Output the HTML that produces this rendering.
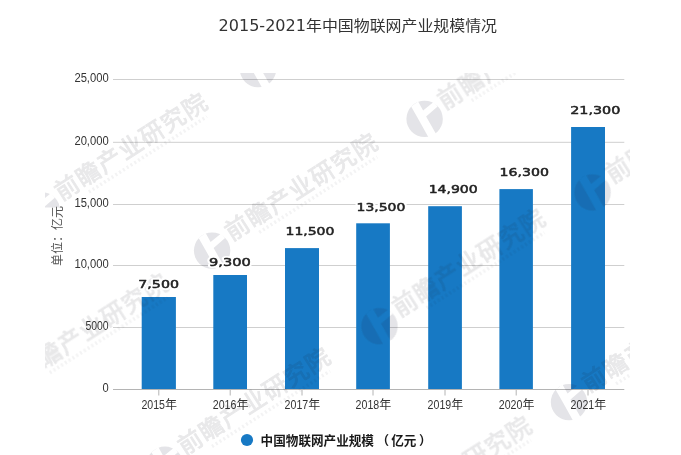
<!DOCTYPE html>
<html lang="zh-CN">
<head>
<meta charset="utf-8">
<title>2015-2021年中国物联网产业规模情况</title>
<style>
html,body{margin:0;padding:0;background:#fff;}
body{width:681px;height:455px;overflow:hidden;}
svg{display:block;}
.num{font-family:"Liberation Sans","Noto Sans CJK SC",sans-serif;font-size:12px;fill:#333;}
.dlh{font-family:"DejaVu Sans","Liberation Sans",sans-serif;font-size:11.1px;fill:#fff;stroke:#fff;stroke-width:4px;stroke-linejoin:round;}
.dl{font-family:"DejaVu Sans","Liberation Sans",sans-serif;font-size:11.1px;fill:#222;stroke:#222;stroke-width:0.5px;stroke-linejoin:round;}
.wm{font-family:"Noto Sans CJK SC","WenQuanYi Zen Hei",sans-serif;font-weight:400;font-size:24px;letter-spacing:1.2px;fill:#20202c;stroke:#20202c;stroke-width:0.9px;}
</style>
</head>
<body>
<svg width="681" height="455" viewBox="0 0 681 455">
<defs>
<clipPath id="wmclip"><rect x="45.5" y="73.8" width="584" height="400"/></clipPath>
<mask id="lm" maskUnits="userSpaceOnUse" x="-20" y="-20" width="40" height="40">
<rect x="-20" y="-20" width="40" height="40" fill="#fff"/>
<path d="M-13.5,-12.5 L-6.5,-17.5 L-1.5,-8.5 L9,-17 L13,-12.5 L1.5,-2.5 L12,16 L4.5,19.5 L-5.5,1.5 Z" fill="#000"/>
</mask>
<g id="logo"><g transform="rotate(32.6)">
<circle cx="0" cy="0" r="18.2" fill="#20203a" mask="url(#lm)"/>
</g></g>
</defs>
<rect width="681" height="455" fill="#fff"/>

<line x1="113" y1="79.5" x2="624.3" y2="79.5" stroke="#cfcfcf" stroke-width="1"/>
<line x1="113" y1="142.3" x2="624.3" y2="142.3" stroke="#cfcfcf" stroke-width="1"/>
<line x1="113" y1="204.5" x2="624.3" y2="204.5" stroke="#cfcfcf" stroke-width="1"/>
<line x1="113" y1="265.5" x2="624.3" y2="265.5" stroke="#cfcfcf" stroke-width="1"/>
<line x1="113" y1="327.5" x2="624.3" y2="327.5" stroke="#cfcfcf" stroke-width="1"/>
<rect x="141.7" y="297.0" width="34.2" height="92.5" fill="#1779c4"/>
<rect x="213.3" y="275.0" width="33.7" height="114.5" fill="#1779c4"/>
<rect x="285.0" y="248.1" width="34.0" height="141.4" fill="#1779c4"/>
<rect x="356.2" y="223.3" width="33.7" height="166.2" fill="#1779c4"/>
<rect x="428.2" y="206.2" width="33.7" height="183.3" fill="#1779c4"/>
<rect x="499.4" y="189.1" width="33.5" height="200.4" fill="#1779c4"/>
<rect x="571.1" y="127.0" width="33.9" height="262.5" fill="#1779c4"/>
<line x1="113" y1="389.5" x2="624.3" y2="389.5" stroke="#b4b4b4" stroke-width="1"/>
<line x1="158.8" y1="389.5" x2="158.8" y2="395.5" stroke="#b4b4b4" stroke-width="1"/>
<line x1="230.2" y1="389.5" x2="230.2" y2="395.5" stroke="#b4b4b4" stroke-width="1"/>
<line x1="302.0" y1="389.5" x2="302.0" y2="395.5" stroke="#b4b4b4" stroke-width="1"/>
<line x1="373.0" y1="389.5" x2="373.0" y2="395.5" stroke="#b4b4b4" stroke-width="1"/>
<line x1="445.0" y1="389.5" x2="445.0" y2="395.5" stroke="#b4b4b4" stroke-width="1"/>
<line x1="516.2" y1="389.5" x2="516.2" y2="395.5" stroke="#b4b4b4" stroke-width="1"/>
<line x1="588.0" y1="389.5" x2="588.0" y2="395.5" stroke="#b4b4b4" stroke-width="1"/>
<g clip-path="url(#wmclip)" opacity="0.12">
<g transform="translate(66.8,187.2) rotate(-32.6)"><use href="#logo" x="-33.5" y="6"/><text class="wm" x="-12" y="9" opacity="0.85">前瞻产业研究院</text><line x1="16" y1="16" x2="156" y2="16" stroke="#20202c" stroke-width="3.5" stroke-dasharray="2 2.5" opacity="0.45"/></g>
<g transform="translate(283,46) rotate(-32.6)"><use href="#logo" x="-33.5" y="6"/><text class="wm" x="-12" y="9" opacity="0.85">前瞻产业研究院</text><line x1="16" y1="16" x2="156" y2="16" stroke="#20202c" stroke-width="3.5" stroke-dasharray="2 2.5" opacity="0.45"/></g>
<g transform="translate(237.1,227.5) rotate(-32.6)"><use href="#logo" x="-33.5" y="6"/><text class="wm" x="-12" y="9" opacity="0.85">前瞻产业研究院</text><line x1="16" y1="16" x2="156" y2="16" stroke="#20202c" stroke-width="3.5" stroke-dasharray="2 2.5" opacity="0.45"/></g>
<g transform="translate(449.6,95.8) rotate(-32.6)"><use href="#logo" x="-33.5" y="6"/><text class="wm" x="-12" y="9" opacity="0.85">前瞻产业研究院</text><line x1="16" y1="16" x2="156" y2="16" stroke="#20202c" stroke-width="3.5" stroke-dasharray="2 2.5" opacity="0.45"/></g>
<g transform="translate(404.5,303.1) rotate(-32.6)"><use href="#logo" x="-33.5" y="6"/><text class="wm" x="-12" y="9" opacity="0.85">前瞻产业研究院</text><line x1="16" y1="16" x2="156" y2="16" stroke="#20202c" stroke-width="3.5" stroke-dasharray="2 2.5" opacity="0.45"/></g>
<g transform="translate(617.6,169.4) rotate(-32.6)"><use href="#logo" x="-33.5" y="6"/><text class="wm" x="-12" y="9" opacity="0.85">前瞻产业研究院</text><line x1="16" y1="16" x2="156" y2="16" stroke="#20202c" stroke-width="3.5" stroke-dasharray="2 2.5" opacity="0.45"/></g>
<g transform="translate(189.9,441.6) rotate(-32.6)"><use href="#logo" x="-33.5" y="6"/><text class="wm" x="-12" y="9" opacity="0.85">前瞻产业研究院</text><line x1="16" y1="16" x2="156" y2="16" stroke="#20202c" stroke-width="3.5" stroke-dasharray="2 2.5" opacity="0.45"/></g>
<g transform="translate(27.7,367.9) rotate(-32.6)"><use href="#logo" x="-33.5" y="6"/><text class="wm" x="-12" y="9" opacity="0.85">前瞻产业研究院</text><line x1="16" y1="16" x2="156" y2="16" stroke="#20202c" stroke-width="3.5" stroke-dasharray="2 2.5" opacity="0.45"/></g>
<g transform="translate(594,379) rotate(-32.6)"><use href="#logo" x="-33.5" y="6"/><text class="wm" x="-12" y="9" opacity="0.85">前瞻产业研究院</text><line x1="16" y1="16" x2="156" y2="16" stroke="#20202c" stroke-width="3.5" stroke-dasharray="2 2.5" opacity="0.45"/></g>
<g transform="translate(391,510.5) rotate(-32.6)"><use href="#logo" x="-33.5" y="6"/><text class="wm" x="-12" y="9" opacity="0.85">前瞻产业研究院</text><line x1="16" y1="16" x2="156" y2="16" stroke="#20202c" stroke-width="3.5" stroke-dasharray="2 2.5" opacity="0.45"/></g>
</g>
<text x="218.5" y="30.5" style="font-family:'DejaVu Sans','Liberation Sans','Noto Sans CJK SC',sans-serif;font-size:15px;fill:#333;"><tspan textLength="87.5" lengthAdjust="spacingAndGlyphs">2015-2021</tspan><tspan style="font-family:'Liberation Sans','Noto Sans CJK SC',sans-serif;font-size:14.7px" textLength="191" lengthAdjust="spacingAndGlyphs">年中国物联网产业规模情况</tspan></text>
<text class="num" x="108.7" y="81.7" text-anchor="end" textLength="34.3" lengthAdjust="spacingAndGlyphs">25,000</text>
<text class="num" x="108.7" y="144.5" text-anchor="end" textLength="34.3" lengthAdjust="spacingAndGlyphs">20,000</text>
<text class="num" x="108.7" y="206.7" text-anchor="end" textLength="34.3" lengthAdjust="spacingAndGlyphs">15,000</text>
<text class="num" x="108.7" y="267.7" text-anchor="end" textLength="34.3" lengthAdjust="spacingAndGlyphs">10,000</text>
<text class="num" x="108.7" y="329.7" text-anchor="end" textLength="23.3" lengthAdjust="spacingAndGlyphs">5000</text>
<text class="num" x="108.7" y="391.7" text-anchor="end" textLength="6.2" lengthAdjust="spacingAndGlyphs">0</text>
<rect x="44" y="207.5" width="21" height="59" fill="#fff"/>
<text transform="translate(61.5,236) rotate(-90)" text-anchor="middle" style="font-family:'Liberation Sans','Noto Sans CJK SC',sans-serif;font-size:12px;fill:#555;">单位：亿元</text>
<text class="num" x="141.4" y="409"><tspan textLength="23.6" lengthAdjust="spacingAndGlyphs">2015</tspan><tspan>年</tspan></text>
<text class="num" x="212.8" y="409"><tspan textLength="23.6" lengthAdjust="spacingAndGlyphs">2016</tspan><tspan>年</tspan></text>
<text class="num" x="284.6" y="409"><tspan textLength="23.6" lengthAdjust="spacingAndGlyphs">2017</tspan><tspan>年</tspan></text>
<text class="num" x="355.6" y="409"><tspan textLength="23.6" lengthAdjust="spacingAndGlyphs">2018</tspan><tspan>年</tspan></text>
<text class="num" x="427.6" y="409"><tspan textLength="23.6" lengthAdjust="spacingAndGlyphs">2019</tspan><tspan>年</tspan></text>
<text class="num" x="498.8" y="409"><tspan textLength="23.6" lengthAdjust="spacingAndGlyphs">2020</tspan><tspan>年</tspan></text>
<text class="num" x="570.6" y="409"><tspan textLength="23.6" lengthAdjust="spacingAndGlyphs">2021</tspan><tspan>年</tspan></text>
<text class="dlh" x="138.3" y="288.2" textLength="40.7" lengthAdjust="spacingAndGlyphs">7,500</text>
<text class="dl" x="138.3" y="288.2" textLength="40.7" lengthAdjust="spacingAndGlyphs">7,500</text>
<text class="dlh" x="209.0" y="266.4" textLength="41.7" lengthAdjust="spacingAndGlyphs">9,300</text>
<text class="dl" x="209.0" y="266.4" textLength="41.7" lengthAdjust="spacingAndGlyphs">9,300</text>
<text class="dlh" x="285.5" y="235.3" textLength="48.9" lengthAdjust="spacingAndGlyphs">11,500</text>
<text class="dl" x="285.5" y="235.3" textLength="48.9" lengthAdjust="spacingAndGlyphs">11,500</text>
<text class="dlh" x="356.6" y="210.6" textLength="48.7" lengthAdjust="spacingAndGlyphs">13,500</text>
<text class="dl" x="356.6" y="210.6" textLength="48.7" lengthAdjust="spacingAndGlyphs">13,500</text>
<text class="dlh" x="428.7" y="193.2" textLength="49.0" lengthAdjust="spacingAndGlyphs">14,900</text>
<text class="dl" x="428.7" y="193.2" textLength="49.0" lengthAdjust="spacingAndGlyphs">14,900</text>
<text class="dlh" x="499.5" y="176.4" textLength="49.4" lengthAdjust="spacingAndGlyphs">16,300</text>
<text class="dl" x="499.5" y="176.4" textLength="49.4" lengthAdjust="spacingAndGlyphs">16,300</text>
<text class="dlh" x="570.2" y="114.1" textLength="50.1" lengthAdjust="spacingAndGlyphs">21,300</text>
<text class="dl" x="570.2" y="114.1" textLength="50.1" lengthAdjust="spacingAndGlyphs">21,300</text>
<circle cx="247" cy="440" r="6.1" fill="#1779c4"/>
<text x="260.6" y="445.2" style="font-family:'Liberation Sans','Noto Sans CJK SC',sans-serif;font-weight:bold;font-size:12.6px;fill:#1a1a1a;">中国物联网产业规模<tspan dx="2.5">（</tspan><tspan dx="2.2">亿元</tspan><tspan dx="2.6">）</tspan></text>
</svg>
</body>
</html>
